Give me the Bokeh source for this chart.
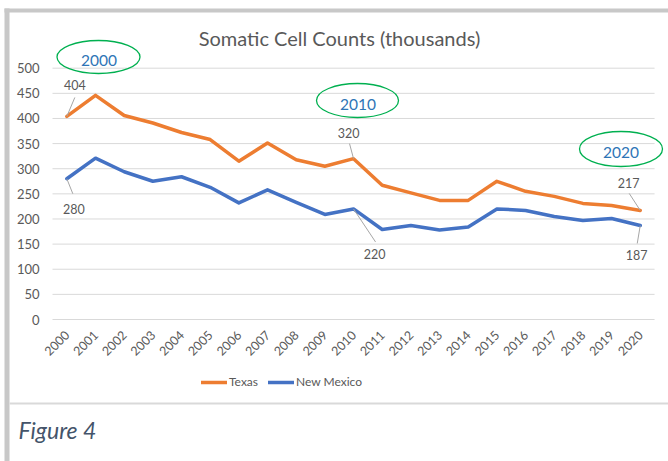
import math
from bokeh.plotting import figure
from bokeh.models import Range1d, FixedTicker, Label, BoxAnnotation, Legend, LegendItem
from bokeh.core.properties import value
from bokeh.embed import file_html
from bokeh.resources import INLINE

# ---------------- data ----------------
years = list(range(2000, 2021))
texas = [404, 446, 406, 391, 372, 358, 315, 351, 318, 305, 320,
         267, 252, 237, 237, 275, 255, 245, 231, 227, 217]
new_mexico = [280, 321, 294, 275, 284, 263, 232, 258, 233, 209, 220,
              179, 187, 178, 184, 220, 217, 205, 197, 201, 187]
y_ticks = [0, 50, 100, 150, 200, 250, 300, 350, 400, 450, 500]
labelled_idx = [0, 10, 20]
callout_years = ["2000", "2010", "2020"]
title_text = "Somatic Cell Counts (thousands)"
caption_text = "Figure 4"

# ---------------- layout (canvas px; frame covers the whole canvas) ----------------
W, H = 668, 461
PLOT_LEFT = 52          # px of the left edge of the category band
ZERO_Y = 319            # px of value 0
PX_YEAR = 28.67
PX_UNIT = 0.5026
XS = (years[0] - 0.5) - PLOT_LEFT / PX_YEAR
XE = XS + W / PX_YEAR
YS = -(H - ZERO_Y) / PX_UNIT
YE = YS + H / PX_UNIT

def dx(px):
    return XS + px / PX_YEAR

def dy(py):
    return (ZERO_Y - py) / PX_UNIT

def sy(py):  # canvas px (from top) -> screen units (from bottom)
    return H - py

FONT = "Lato"
GRAY_TXT = "#595959"

p = figure(width=W, height=H, output_backend="svg", toolbar_location=None,
           x_range=Range1d(XS, XE), y_range=Range1d(YS, YE),
           min_border=0, min_border_left=0, min_border_right=0,
           min_border_top=0, min_border_bottom=0)
p.outline_line_color = None
p.background_fill_color = "white"
p.border_fill_color = "white"
p.xgrid.visible = False
p.ygrid.visible = False

# axes: real Bokeh axes pinned inside the frame
p.yaxis.fixed_location = years[0] - 0.5
p.yaxis.ticker = FixedTicker(ticks=y_ticks)
p.yaxis.axis_line_color = None
p.yaxis.major_tick_line_color = None
p.yaxis.minor_tick_line_color = None
p.yaxis.major_tick_out = 0
p.yaxis.major_tick_in = 0
p.yaxis.minor_tick_out = 0
p.yaxis.major_label_standoff = 13
p.yaxis.major_label_text_font = FONT
p.yaxis.major_label_text_font_size = "13px"
p.yaxis.major_label_text_color = GRAY_TXT

p.xaxis.fixed_location = 0
p.xaxis.ticker = FixedTicker(ticks=years)
p.xaxis.major_label_orientation = math.pi / 4
p.xaxis.axis_line_color = None
p.xaxis.major_tick_line_color = None
p.xaxis.minor_tick_line_color = None
p.xaxis.major_tick_out = 0
p.xaxis.major_tick_in = 0
p.xaxis.minor_tick_out = 0
p.xaxis.major_label_standoff = 13
p.xaxis.major_label_text_font = FONT
p.xaxis.major_label_text_font_size = "12.5px"
p.xaxis.major_label_text_color = GRAY_TXT

# decorative frame bands and separator
for (l, r, t, b, c) in [(4, 9, 8, H, "#C8C8C8"),
                        (4, W, 8, 12, "#C8C8C8"),
                        (9, W, 402, 404, "#D9D9D9")]:
    p.add_layout(BoxAnnotation(left=l, right=r, top=sy(t), bottom=sy(b),
                               left_units="screen", right_units="screen",
                               top_units="screen", bottom_units="screen",
                               fill_color=c, fill_alpha=1, line_color=None,
                               level="underlay"))

# gridlines across the category band
n = len(y_ticks)
p.segment(x0=[years[0] - 0.5] * n, y0=y_ticks, x1=[years[-1] + 0.5] * n, y1=y_ticks,
          line_color="#D9D9D9", line_width=1)

# series
r_tx = p.line(years, texas, line_color="#ED7D31", line_width=3.5,
              line_join="round", line_cap="round")
r_nm = p.line(years, new_mexico, line_color="#4472C4", line_width=3.5,
              line_join="round", line_cap="round")

# data labels with leader lines (pixel offsets, y down)
label_off = {
    ("tx", 0): (8, -31, 8, -19),
    ("tx", 10): (-5, -26, -4, -15),
    ("tx", 20): (-11.5, -27, -11, -17),
    ("nm", 0): (7, 30, 6, 15),
    ("nm", 10): (21, 45, 22, 33),
    ("nm", 20): (-3.5, 29, -3, 18),
}
lx, ly, lt, lxo, lyo = [], [], [], [], []
sx0, sy0, sx1, sy1 = [], [], [], []
for key, series in (("tx", texas), ("nm", new_mexico)):
    for i in labelled_idx:
        ox, oy, kx, ky = label_off[(key, i)]
        lx.append(years[i]); ly.append(series[i]); lt.append(str(series[i]))
        lxo.append(ox); lyo.append(oy)
        sx0.append(years[i]); sy0.append(series[i])
        sx1.append(years[i] + kx / PX_YEAR); sy1.append(series[i] - ky / PX_UNIT)
p.segment(x0=sx0, y0=sy0, x1=sx1, y1=sy1, line_color="#A6A6A6", line_width=1)
p.text(x=lx, y=ly, text=lt, x_offset=lxo, y_offset=lyo,
       text_align="center", text_baseline="middle",
       text_font=value(FONT), text_font_size="12.5px", text_color=GRAY_TXT)

# callout ellipses
ell_c = [(98, 56.5), (357, 100), (620.5, 148.5)]
ell_t = [(98.5, 60), (357.5, 104), (620.5, 152)]
ell_w = [83, 82, 83]
ell_h = [33, 34, 35]
p.ellipse(x=[dx(c[0]) for c in ell_c], y=[dy(c[1]) for c in ell_c],
          width=ell_w, height=ell_h, width_units="screen", height_units="screen",
          fill_color=None, line_color="#00B050", line_width=1.3)
p.text(x=[dx(c[0]) for c in ell_t], y=[dy(c[1]) for c in ell_t], text=callout_years,
       text_align="center", text_baseline="middle",
       text_font=value(FONT), text_font_size="15.5px", text_color="#2E75B6")

# legend
legend = Legend(items=[LegendItem(label="Texas", renderers=[r_tx]),
                       LegendItem(label="New Mexico", renderers=[r_nm])],
                orientation="horizontal", location=(201, sy(391.7)),
                padding=0, margin=0, spacing=10, label_standoff=2,
                glyph_width=26, glyph_height=20, label_height=20,
                border_line_color=None, background_fill_alpha=0,
                label_text_font=FONT, label_text_font_size="12px",
                label_text_color=GRAY_TXT)
p.add_layout(legend)

# title and caption
p.add_layout(Label(x=339, y=sy(37), x_units="screen", y_units="screen",
                   text=title_text, text_align="center", text_baseline="middle",
                   text_font=FONT, text_font_size="20px", text_color=GRAY_TXT))
p.add_layout(Label(x=18, y=sy(429), x_units="screen", y_units="screen",
                   text=caption_text, text_align="left", text_baseline="alphabetic",
                   text_font=FONT, text_font_size="23px", text_font_style="italic",
                   text_color="#44546A"))

open("out.html", "w").write(file_html(p, INLINE))
